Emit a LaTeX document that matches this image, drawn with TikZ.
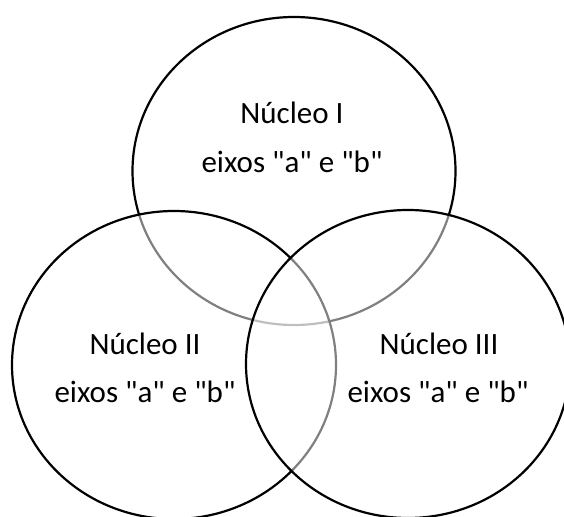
\documentclass[tikz,border=0pt]{standalone}
\usepackage{fontspec}
\setmainfont{Carlito}[Ligatures=TeXOff]
\begin{document}
\begin{tikzpicture}[x=1pt,y=-1pt,
  ring/.style={line width=2.2pt, draw=black},
  veil/.style={ring, fill=white, fill opacity=0.5},
  lbl/.style={anchor=base, inner sep=0pt, font=\fontsize{31}{37}\selectfont}]
\useasboundingbox (0,0) rectangle (564,516);
\clip (0,0) rectangle (564,516);
\fill[white] (0,0) rectangle (564,516);
\draw[ring] (294,171) ellipse [x radius=161.5pt, y radius=154pt];
\draw[veil] (174,365) ellipse [x radius=162pt, y radius=154pt];
\draw[veil] (408,364) ellipse [x radius=162pt, y radius=154pt];
\node[lbl] (t1) at (292,123) {Núcleo I};
\node[lbl] (t2) at (292,172) {eixos "a" e "b"};
\node[lbl] (l1) at (145,354) {Núcleo II};
\node[lbl] (l2) at (145,402) {eixos "a" e "b"};
\node[lbl] (r1) at (439,354) {Núcleo III};
\node[lbl] (r2) at (438,402) {eixos "a" e "b"};
\end{tikzpicture}
\end{document}
